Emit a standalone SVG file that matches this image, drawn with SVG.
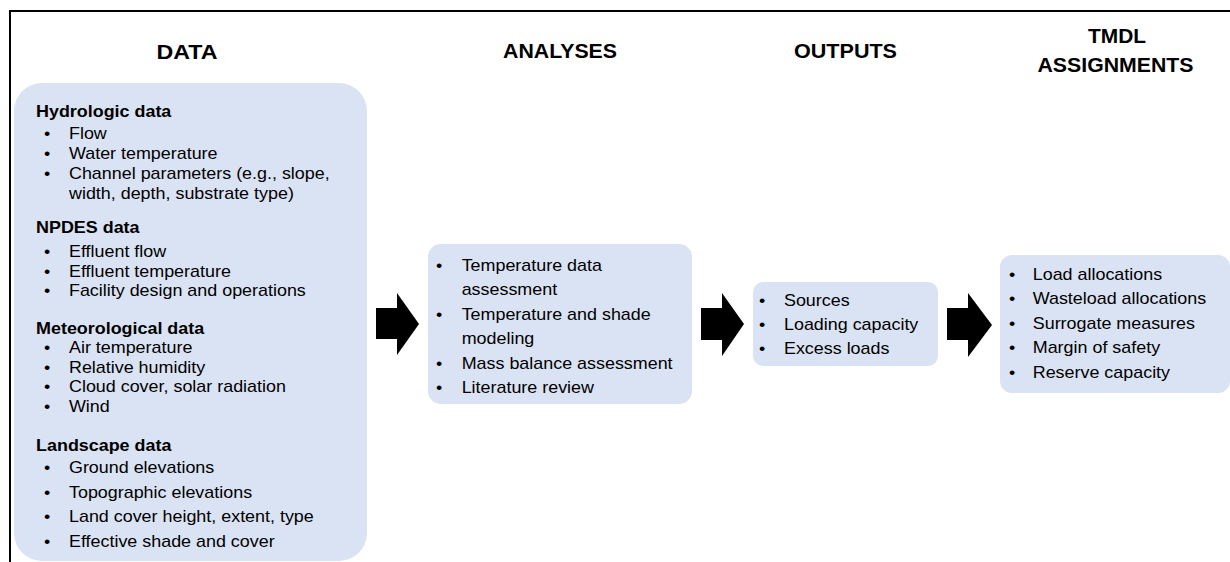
<svg xmlns="http://www.w3.org/2000/svg" width="1230" height="562" viewBox="0 0 1230 562">
<style>
.box{fill:#dae3f3;stroke:none}
.h{font-family:"Liberation Sans",Arial,sans-serif;font-weight:bold;font-size:20px;fill:#000;text-anchor:middle}
.t{font-family:"Liberation Sans",Arial,sans-serif;font-size:16px;fill:#000}
.b{font-family:"Liberation Sans",Arial,sans-serif;font-size:16px;font-weight:bold;fill:#000}
.arrow{fill:#000}
.frame{stroke:#000;stroke-width:2;fill:none}
</style>
<rect width="1230" height="562" fill="#fff"/>
<path class="frame" d="M10,562 V11 H1230"/>
<g id="headings">
<text class="h" x="187" y="59" textLength="61" lengthAdjust="spacingAndGlyphs">DATA</text>
<text class="h" x="560" y="58" textLength="114" lengthAdjust="spacingAndGlyphs">ANALYSES</text>
<text class="h" x="845.5" y="58" textLength="103" lengthAdjust="spacingAndGlyphs">OUTPUTS</text>
<text class="h" x="1117" y="43" textLength="58" lengthAdjust="spacingAndGlyphs">TMDL</text>
<text class="h" x="1115.5" y="72" textLength="156" lengthAdjust="spacingAndGlyphs">ASSIGNMENTS</text>
</g>
<g id="data">
<rect class="box" x="14" y="83" width="353" height="478" rx="28"/>
<g transform="translate(44 0) scale(1.12 1)">
<text class="b" x="-7.1" y="117">Hydrologic data</text>
<text class="t" x="0" y="139.5">•</text><text class="t" x="22.3" y="139.5">Flow</text>
<text class="t" x="0" y="159">•</text><text class="t" x="22.3" y="159">Water temperature</text>
<text class="t" x="0" y="179">•</text><text class="t" x="22.3" y="179">Channel parameters (e.g., slope,</text>
<text class="t" x="22.3" y="199">width, depth, substrate type)</text>
<text class="b" x="-7.1" y="233">NPDES data</text>
<text class="t" x="0" y="257">•</text><text class="t" x="22.3" y="257">Effluent flow</text>
<text class="t" x="0" y="277">•</text><text class="t" x="22.3" y="277">Effluent temperature</text>
<text class="t" x="0" y="296">•</text><text class="t" x="22.3" y="296">Facility design and operations</text>
<text class="b" x="-7.1" y="334">Meteorological data</text>
<text class="t" x="0" y="353">•</text><text class="t" x="22.3" y="353">Air temperature</text>
<text class="t" x="0" y="373">•</text><text class="t" x="22.3" y="373">Relative humidity</text>
<text class="t" x="0" y="392">•</text><text class="t" x="22.3" y="392">Cloud cover, solar radiation</text>
<text class="t" x="0" y="412">•</text><text class="t" x="22.3" y="412">Wind</text>
<text class="b" x="-7.1" y="451">Landscape data</text>
<text class="t" x="0" y="473">•</text><text class="t" x="22.3" y="473">Ground elevations</text>
<text class="t" x="0" y="498">•</text><text class="t" x="22.3" y="498">Topographic elevations</text>
<text class="t" x="0" y="522">•</text><text class="t" x="22.3" y="522">Land cover height, extent, type</text>
<text class="t" x="0" y="547">•</text><text class="t" x="22.3" y="547">Effective shade and cover</text>
</g>
</g>
<g id="analyses">
<rect class="box" x="428" y="244" width="264" height="160" rx="13"/>
<g transform="translate(436 0) scale(1.12 1)">
<text class="t" x="0" y="271">•</text><text class="t" x="22.9" y="271">Temperature data</text>
<text class="t" x="22.9" y="295">assessment</text>
<text class="t" x="0" y="320">•</text><text class="t" x="22.9" y="320">Temperature and shade</text>
<text class="t" x="22.9" y="344">modeling</text>
<text class="t" x="0" y="369">•</text><text class="t" x="22.9" y="369">Mass balance assessment</text>
<text class="t" x="0" y="393">•</text><text class="t" x="22.9" y="393">Literature review</text>
</g>
</g>
<g id="outputs">
<rect class="box" x="753" y="282" width="185" height="84" rx="10"/>
<g transform="translate(759 0) scale(1.12 1)">
<text class="t" x="0" y="306">•</text><text class="t" x="22.3" y="306">Sources</text>
<text class="t" x="0" y="330">•</text><text class="t" x="22.3" y="330">Loading capacity</text>
<text class="t" x="0" y="354">•</text><text class="t" x="22.3" y="354">Excess loads</text>
</g>
</g>
<g id="tmdl">
<rect class="box" x="1000" y="255" width="230" height="138" rx="12"/>
<g transform="translate(1009 0) scale(1.12 1)">
<text class="t" x="0" y="280">•</text><text class="t" x="21.2" y="280">Load allocations</text>
<text class="t" x="0" y="304">•</text><text class="t" x="21.2" y="304">Wasteload allocations</text>
<text class="t" x="0" y="329">•</text><text class="t" x="21.2" y="329">Surrogate measures</text>
<text class="t" x="0" y="353">•</text><text class="t" x="21.2" y="353">Margin of safety</text>
<text class="t" x="0" y="378">•</text><text class="t" x="21.2" y="378">Reserve capacity</text>
</g>
</g>
<g id="connectors">
<polygon class="arrow" points="376,308 397,308 397,293 419,324 397,355 397,339 376,339"/>
<polygon class="arrow" points="701,308 722,308 722,293 744,324 722,356 722,340 701,340"/>
<polygon class="arrow" points="947,308 968,308 968,293 992,325 968,357 968,340 947,340"/>
</g>
</svg>
